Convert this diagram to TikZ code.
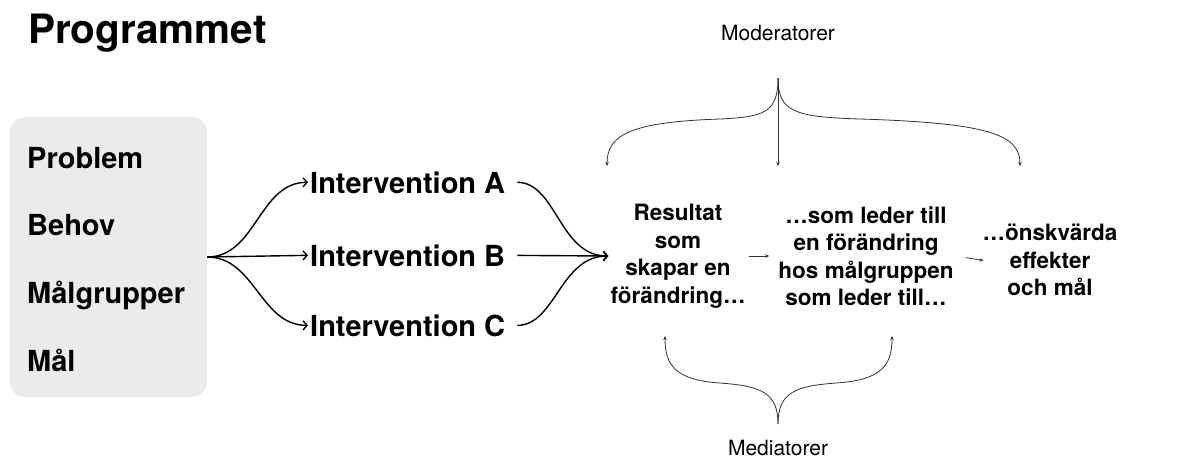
\documentclass[tikz,border=0pt]{standalone}
\usepackage{fontspec}
\setmainfont{TeX Gyre Heros}
\usepackage{tikz}
\usetikzlibrary{arrows.meta}

\definecolor{boxgray}{HTML}{EBEBEB}
\definecolor{linegray}{HTML}{333333}

\begin{document}
\begin{tikzpicture}[x=1pt,y=-1pt,
    listitem/.style={anchor=base west,inner sep=0pt,font=\fontsize{29}{34}\selectfont\bfseries},
    interv/.style={anchor=base west,inner sep=2pt,font=\fontsize{29}{34}\selectfont\bfseries},
    stage/.style={align=center,inner sep=2pt,font=\fontsize{22.5}{27.5}\selectfont\bfseries},
    factor/.style={inner sep=0pt,font=\fontsize{21}{24}\selectfont},
    flow/.style={line width=1.4pt,-{Straight Barb[length=4pt,width=9pt]}},
    thin/.style={linegray,line width=0.8pt,-{Stealth[length=4pt,width=3.5pt]}}]
    \useasboundingbox (0,0) rectangle (1184,459);

    \node[anchor=base west,inner sep=0pt,font=\fontsize{40.5}{48}\selectfont\bfseries] (title) at (28,43) {Programmet};

    % vänster ruta
    \node[fill=boxgray,rounded corners=15pt,minimum width=197pt,minimum height=280pt] (box) at (108.5,257) {};
    \node[listitem] (problem) at (27,168) {Problem};
    \node[listitem] (behov) at (27,235) {Behov};
    \node[listitem] (malgrupper) at (27,303) {Målgrupper};
    \node[listitem] (mal) at (27,371) {Mål};

    % interventioner
    \coordinate (fork) at (box.east);
    \node[interv] (iA) at (308,193) {Intervention A};
    \node[interv] (iB) at (308,266) {Intervention B};
    \node[interv] (iC) at (308,336) {Intervention C};

    \draw[flow] (fork) to[out=0,in=180] (iA.west);
    \draw[flow] (fork) -- (iB.west);
    \draw[flow] (fork) to[out=0,in=180] (iC.west);

    % resultatkedja
    \node[stage] (res) at (678,256) {Resultat\\som\\skapar en\\förändring…};
    \node[stage] (mg) at (866,256) {…som leder till\\en förändring\\hos målgruppen\\som leder till…};
    \node[stage] (eff) at (1050,260) {…önskvärda\\effekter\\och mål};

    \draw[flow,shorten <=10pt] (iA.east) to[out=0,in=180] (res.west);
    \draw[flow,shorten <=10pt] (iB.east) -- (res.west);
    \draw[flow,shorten <=10pt] (iC.east) to[out=0,in=180] (res.west);

    \draw[thin,shorten <=1pt,shorten >=7pt] (res.east) -- (mg.west);
    \draw[thin,shorten <=10pt,shorten >=-3pt] (mg.east) -- (eff.west);

    % moderatorer
    \node[factor] (mod) at (778,33) {Moderatorer};
    \coordinate (modtop) at (778,78);
    \coordinate (modA) at (607,166);
    \coordinate (modB) at (778,166);
    \coordinate (modC) at (1020,166);
    \draw[thin] (modtop) .. controls (778,112) and (765,117) .. (720,119)
        .. controls (630,122) and (607,135) .. (modA);
    \draw[thin] (modtop) -- (modB);
    \draw[thin] (modtop) .. controls (778,112) and (795,117) .. (860,119)
        .. controls (990,123) and (1020,135) .. (modC);

    % mediatorer
    \node[factor] (med) at (778,448) {Mediatorer};
    \coordinate (medtip) at (778,424);
    \coordinate (medA) at (665,336);
    \coordinate (medB) at (892,336);
    \draw[thin] (medtip) .. controls (778,392) and (760,386) .. (720,383)
        .. controls (675,380) and (665,365) .. (medA);
    \draw[thin] (medtip) .. controls (778,392) and (796,386) .. (836,383)
        .. controls (882,380) and (892,365) .. (medB);
\end{tikzpicture}
\end{document}
